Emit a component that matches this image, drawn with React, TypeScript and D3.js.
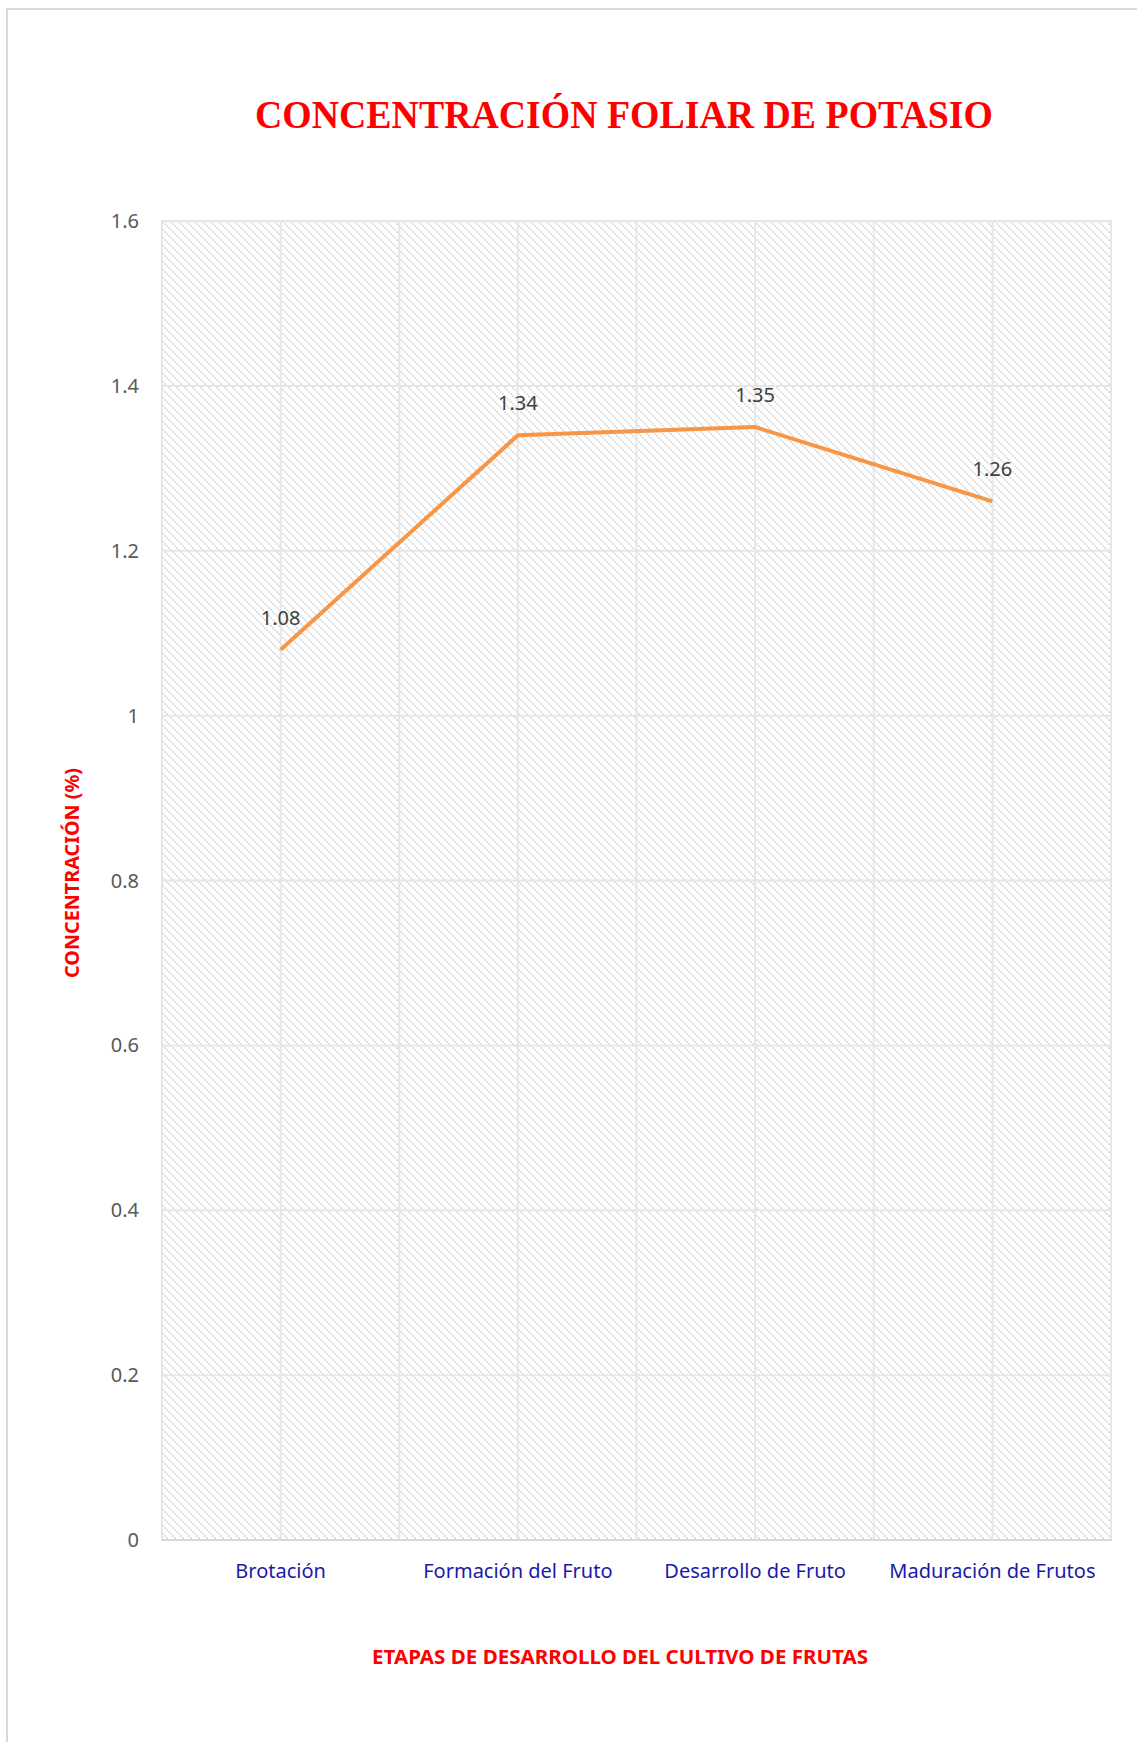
import React from 'react';
import * as d3 from 'd3';

const categories = ['Brotación', 'Formación del Fruto', 'Desarrollo de Fruto', 'Maduración de Frutos'];
const values = [1.08, 1.34, 1.35, 1.26];
const yTicks = [0, 0.2, 0.4, 0.6, 0.8, 1, 1.2, 1.4, 1.6];

const W = 1137;
const H = 1742;
const margin = { top: 221, right: 26, bottom: 202, left: 162 };
const innerW = W - margin.left - margin.right;
const innerH = H - margin.top - margin.bottom;

const sans = "'Noto Sans', 'Open Sans', sans-serif";

const App: React.FC = () => {
  const x = d3.scaleBand<string>().domain(categories).range([0, innerW]).padding(0);
  const y = d3.scaleLinear().domain([0, 1.6]).range([innerH, 0]);

  const cx = (c: string) => (x(c) ?? 0) + x.bandwidth() / 2;

  const line = d3
    .line<number>()
    .x((_, i) => cx(categories[i]))
    .y(d => y(d));

  // vertical grid at both band edges and band centers
  const vLines: number[] = [];
  categories.forEach(c => {
    vLines.push(x(c) ?? 0);
    vLines.push(cx(c));
  });
  vLines.push(innerW);

  return (
    <svg
      width={W}
      height={H}
      style={{ position: 'absolute', left: 0, top: 0, background: '#fff' }}
    >
      <defs>
        <pattern id="hatch" width="8" height="8" patternUnits="userSpaceOnUse">
          <rect width="8" height="8" fill="#ffffff" />
          <rect x="0" y="0" width="2" height="2" fill="#e1e1e1" />
          <rect x="2" y="2" width="2" height="2" fill="#e1e1e1" />
          <rect x="4" y="4" width="2" height="2" fill="#e1e1e1" />
          <rect x="6" y="6" width="2" height="2" fill="#e1e1e1" />
        </pattern>
      </defs>

      {/* outer chart frame */}
      <rect x={7} y={9} width={W + 20} height={H + 20} fill="none" stroke="#d9d9d9" strokeWidth={2} />

      <text
        x={624}
        y={128}
        textAnchor="middle"
        fontFamily="'Liberation Serif', 'DejaVu Serif', serif"
        fontWeight="bold"
        fontSize={40}
        fill="#ff0000"
        textLength={738}
        lengthAdjust="spacingAndGlyphs"
      >
        CONCENTRACIÓN FOLIAR DE POTASIO
      </text>

      <g transform={`translate(${margin.left},${margin.top})`}>
        <rect width={innerW} height={innerH} fill="url(#hatch)" stroke="#d9d9d9" strokeWidth={2} />

        {yTicks.map(t => (
          <line key={`h${t}`} x1={0} x2={innerW} y1={y(t)} y2={y(t)} stroke="#e6e6e6" strokeWidth={2} />
        ))}
        {vLines.map((v, i) => (
          <line key={`v${i}`} x1={v} x2={v} y1={0} y2={innerH} stroke="#e6e6e6" strokeWidth={2} />
        ))}
        <line x1={0} x2={innerW} y1={innerH} y2={innerH} stroke="#d9d9d9" strokeWidth={2} />

        {yTicks.map(t => (
          <text
            key={`yt${t}`}
            x={-23}
            y={y(t)}
            dy="0.35em"
            textAnchor="end"
            fontFamily={sans}
            fontSize={20}
            fill="#595959"
          >
            {d3.format('~g')(t)}
          </text>
        ))}

        {categories.map(c => (
          <text
            key={c}
            x={cx(c)}
            y={innerH + 38}
            textAnchor="middle"
            fontFamily={sans}
            fontSize={20}
            fill="#1a1aa6"
          >
            {c}
          </text>
        ))}

        <path d={line(values) ?? ''} fill="none" stroke="#f79646" strokeWidth={4} strokeLinejoin="round" />

        {values.map((v, i) => (
          <text
            key={`dl${i}`}
            x={cx(categories[i])}
            y={y(v) - 32}
            dy="0.35em"
            textAnchor="middle"
            fontFamily={sans}
            fontSize={20}
            fill="#404040"
          >
            {v.toFixed(2)}
          </text>
        ))}
      </g>

      <text
        x={620}
        y={1657}
        dy="0.35em"
        textAnchor="middle"
        fontFamily={sans}
        fontWeight="bold"
        fontSize={20}
        fill="#ff0000"
        textLength={496}
        lengthAdjust="spacingAndGlyphs"
      >
        ETAPAS DE DESARROLLO DEL CULTIVO DE FRUTAS
      </text>

      <text
        transform="translate(72,873) rotate(-90)"
        dy="0.35em"
        textAnchor="middle"
        fontFamily={sans}
        fontWeight="bold"
        fontSize={20}
        fill="#ff0000"
        textLength={210}
        lengthAdjust="spacingAndGlyphs"
      >
        CONCENTRACIÓN (%)
      </text>
    </svg>
  );
};

export default App;
